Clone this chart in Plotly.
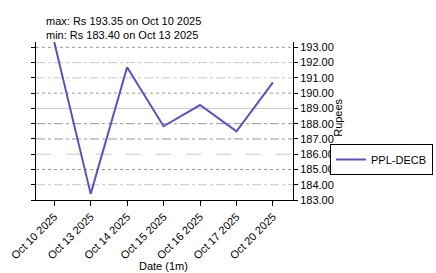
import plotly.graph_objects as go

dates = ["Oct 10 2025", "Oct 13 2025", "Oct 14 2025", "Oct 15 2025",
         "Oct 16 2025", "Oct 17 2025", "Oct 20 2025"]
prices = [193.35, 183.40, 191.69, 187.83, 189.22, 187.50, 190.71]
series_name = "PPL-DECB"
y_ticks = [183, 184, 185, 186, 187, 188, 189, 190, 191, 192, 193]

FONT = "Liberation Sans, Arial, sans-serif"

fig = go.Figure()
fig.add_trace(go.Scatter(x=dates, y=prices, mode="lines", name=series_name,
                         line=dict(color="#5b50cc", width=2)))

# grid line styles (mixed, as in the reference)
grid_styles = {
    193: ("#999999", "dot"), 192: ("#c8c8c8", "dashdot"), 191: ("#c8c8c8", "dashdot"),
    190: ("#999999", "dot"), 189: ("#c8c8c8", "solid"), 188: ("#999999", "dashdot"),
    187: ("#999999", "dashdot"), 186: ("#c8c8c8", "longdash"), 185: ("#999999", "dot"),
    184: ("#c8c8c8", "dashdot"),
}
for t in y_ticks:
    if t in grid_styles:
        c, d = grid_styles[t]
        fig.add_shape(type="line", xref="paper", yref="y", x0=0, x1=1, y0=t, y1=t,
                      line=dict(color=c, width=1, dash=d), layer="below")

imax = prices.index(max(prices))
imin = prices.index(min(prices))
fig.add_annotation(text=f"max: Rs {prices[imax]:.2f} on {dates[imax]}", xref="paper", yref="paper",
                   x=0.031, y=1.135, xanchor="left", yanchor="middle", showarrow=False,
                   font=dict(size=11, color="black", family=FONT))
fig.add_annotation(text=f"min: Rs {prices[imin]:.2f} on {dates[imin]}", xref="paper", yref="paper",
                   x=0.031, y=1.045, xanchor="left", yanchor="middle", showarrow=False,
                   font=dict(size=11, color="black", family=FONT))
fig.add_annotation(text="Date (1m)", xref="paper", yref="paper",
                   x=0.496, y=-0.415, xanchor="center", yanchor="middle", showarrow=False,
                   font=dict(size=11, color="black", family=FONT))
fig.add_annotation(text="Rupees", xref="paper", yref="paper", textangle=-90,
                   x=1.175, y=0.52, xanchor="center", yanchor="middle", showarrow=False,
                   font=dict(size=11, color="black", family=FONT))

fig.update_layout(
    width=436, height=273,
    margin=dict(l=36, r=143, t=42, b=73, autoexpand=False),
    paper_bgcolor="white", plot_bgcolor="white",
    font=dict(family=FONT, size=11, color="black"),
    showlegend=True,
    legend=dict(xref="container", yref="container", x=330 / 436, y=1 - 144 / 273,
                xanchor="left", yanchor="top",
                bordercolor="black", borderwidth=1, bgcolor="white",
                font=dict(size=11, family=FONT), itemwidth=30),
    xaxis=dict(type="category", range=[-0.5, 6.55], showgrid=False,
               showline=True, linecolor="black", linewidth=1,
               ticks="outside", ticklen=5, tickcolor="black", tickangle=-45,
               automargin=False, tickfont=dict(size=11)),
    yaxis=dict(side="right", range=[183, 193.35], tickvals=y_ticks,
               ticktext=[f"{v:.2f}" for v in y_ticks], showgrid=False,
               showline=True, linecolor="black", linewidth=1, mirror="ticks",
               ticks="outside", ticklen=4, tickcolor="black",
               automargin=False, tickfont=dict(size=11), zeroline=False),
)

fig.write_html("out.html")
